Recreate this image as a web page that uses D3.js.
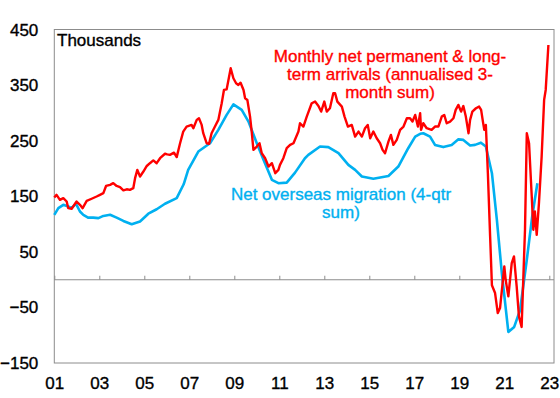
<!DOCTYPE html>
<html>
<head>
<meta charset="utf-8">
<script src="https://cdn.jsdelivr.net/npm/d3@7"></script>
<style>
  html, body { margin: 0; padding: 0; background: #fff; }
  svg text { font-family: "Liberation Sans", Arial, sans-serif; }
</style>
</head>
<body>
<div id="chart"></div>
<script>
// Monthly net permanent & long-term arrivals (annualised 3-month sum), thousands
const arrivalDates = [
  2001.00, 2001.10, 2001.25, 2001.40, 2001.55, 2001.62, 2001.77, 2001.99, 2002.14, 2002.26,
  2002.44, 2002.66, 2002.88, 2003.03, 2003.18, 2003.30, 2003.48, 2003.62, 2003.77, 2003.92,
  2004.07, 2004.22, 2004.36, 2004.51, 2004.59, 2004.69, 2004.81, 2004.96, 2005.11, 2005.25,
  2005.40, 2005.55, 2005.70, 2005.92, 2006.02, 2006.14, 2006.32, 2006.44, 2006.59, 2006.73,
  2006.88, 2007.10, 2007.18, 2007.33, 2007.43, 2007.55, 2007.62, 2007.77, 2007.88, 2007.99,
  2008.14, 2008.29, 2008.44, 2008.54, 2008.66, 2008.74, 2008.84, 2008.96, 2009.08, 2009.18,
  2009.28, 2009.41, 2009.48, 2009.58, 2009.70, 2009.78, 2009.85, 2010.00, 2010.12, 2010.22,
  2010.37, 2010.52, 2010.67, 2010.82, 2010.96, 2011.03, 2011.18, 2011.33, 2011.48, 2011.63,
  2011.85, 2011.92, 2012.07, 2012.22, 2012.44, 2012.59, 2012.74, 2012.86, 2013.00, 2013.11,
  2013.25, 2013.40, 2013.48, 2013.58, 2013.78, 2013.90, 2014.05, 2014.22, 2014.37, 2014.52,
  2014.67, 2014.81, 2014.93, 2015.04, 2015.18, 2015.33, 2015.48, 2015.59, 2015.70, 2015.85,
  2015.96, 2016.07, 2016.22, 2016.37, 2016.52, 2016.67, 2016.81, 2016.92, 2017.04, 2017.16,
  2017.26, 2017.30, 2017.40, 2017.55, 2017.77, 2017.92, 2018.07, 2018.22, 2018.33, 2018.44,
  2018.59, 2018.74, 2018.84, 2018.96, 2019.08, 2019.18, 2019.29, 2019.41, 2019.48, 2019.58,
  2019.74, 2019.88, 2019.97, 2020.05, 2020.11, 2020.18, 2020.27, 2020.37, 2020.45, 2020.59,
  2020.71, 2020.81, 2020.91, 2021.00, 2021.06, 2021.18, 2021.33, 2021.43, 2021.55, 2021.65,
  2021.77, 2021.92, 2022.00, 2022.10, 2022.22, 2022.29, 2022.36, 2022.44, 2022.54, 2022.66,
  2022.77, 2022.84, 2022.96
];
const arrivalValues = [
  148, 153, 144, 147, 141, 129, 128, 141, 135, 129,
  142, 146, 150, 153, 156, 169, 171, 174, 169, 167,
  161, 163, 162, 165, 183, 198, 186, 195, 205, 210,
  215, 210, 219, 227, 226, 225, 229, 221, 246, 267,
  276, 279, 273, 288, 291, 279, 264, 246, 245, 264,
  276, 288, 318, 342, 343, 360, 381, 363, 354, 351,
  355, 342, 327, 324, 294, 264, 234, 240, 246, 228,
  219, 204, 210, 192, 198, 207, 219, 237, 243, 246,
  267, 282, 276, 294, 318, 321, 313, 303, 321, 303,
  309, 336, 336, 321, 312, 294, 276, 279, 258, 267,
  258, 273, 279, 255, 267, 255, 246, 234, 228, 249,
  261, 243, 252, 270, 276, 291, 291, 285, 297, 276,
  300, 270, 282, 273, 270, 276, 276, 294, 297, 282,
  285, 291, 306, 315, 303, 313, 294, 264, 288, 303,
  309, 312, 306, 285, 270, 279, 192, 78, -10, -24,
  -60, -51, -12, 24, 0, -30, 30, 42, -12, -66,
  -85, 90, 264, 246, 150, 90, 123, 81, 138, 222,
  324, 342, 423
];

// Net overseas migration (4-qtr sum), thousands
const nomDates = [
  2001.00, 2001.18, 2001.40, 2001.62, 2001.77, 2001.96, 2002.14, 2002.29, 2002.50, 2002.73,
  2002.96, 2003.18, 2003.48, 2003.77, 2004.07, 2004.44, 2004.81, 2005.18, 2005.55, 2005.92,
  2006.44, 2006.75, 2006.95, 2007.40, 2007.92, 2008.29, 2008.66, 2008.96, 2009.33, 2009.63,
  2010.00, 2010.33, 2010.67, 2010.96, 2011.33, 2011.70, 2012.14, 2012.29, 2012.81, 2013.18,
  2013.63, 2014.07, 2014.37, 2014.67, 2015.18, 2015.85, 2016.29, 2016.73, 2017.04, 2017.26,
  2017.40, 2017.70, 2017.92, 2018.29, 2018.66, 2018.96, 2019.18, 2019.48, 2019.70, 2019.96,
  2020.18, 2020.45, 2020.67, 2020.89, 2021.18, 2021.44, 2021.70, 2022.00, 2022.24, 2022.47
];
const nomValues = [
  117, 129, 135, 132, 129, 137, 123, 117, 112, 112,
  111, 115, 117, 112, 106, 100, 105, 119, 127, 137,
  147, 172, 198, 231, 246, 270, 297, 316, 306, 285,
  246, 213, 180, 174, 175, 193, 219, 225, 240, 239,
  228, 207, 198, 186, 182, 187, 204, 237, 258, 263,
  264, 258, 243, 239, 243, 253, 252, 242, 243, 247,
  240, 192, 108, 12, -94, -85, -55, 36, 114, 174
];

const yTickValues = [-150, -50, 50, 150, 250, 350, 450];
const xTickYears = [2001, 2003, 2005, 2007, 2009, 2011, 2013, 2015, 2017, 2019, 2021, 2023];
const xTickLabels = ['01', '03', '05', '07', '09', '11', '13', '15', '17', '19', '21', '23'];

const arrivalsLabel = ['Monthly net permanent & long-', 'term arrivals (annualised 3-', 'month sum)'];
const nomLabel = ['Net overseas migration (4-qtr', 'sum)'];

const layout = {
  width: 560,
  height: 398,
  plotLeft: 54.3,
  plotRight: 554,
  plotTop: 29.5,
  plotBottom: 363,
  fontSize: 17
};

const colors = {
  arrivals: '#ff0000',
  nom: '#00b0f0',
  frame: '#8c8c8c',
  text: '#000000'
};

// the source text is a little heavier than plain Arial
const textWeight = 0.35;

function createSvg() {
  return d3.select('#chart')
    .append('svg')
    .attr('width', layout.width)
    .attr('height', layout.height);
}

function styleText(selection, color) {
  selection
    .attr('font-size', layout.fontSize)
    .attr('font-family', '"Liberation Sans", Arial, sans-serif')
    .attr('fill', color)
    .attr('stroke', color)
    .attr('stroke-width', textWeight);
}

const svg = createSvg();

const getValueOnXaxis = d3.scaleLinear()
  .domain([2001, 2023])
  .range([layout.plotLeft, 549.3]);

const getValueOnYaxis = d3.scaleLinear()
  .domain([-150, 450])
  .range([layout.plotBottom, 30]);

// plot frame
svg.append('rect')
  .attr('x', layout.plotLeft)
  .attr('y', layout.plotTop)
  .attr('width', layout.plotRight - layout.plotLeft)
  .attr('height', layout.plotBottom - layout.plotTop)
  .attr('fill', 'none')
  .attr('stroke', colors.frame)
  .attr('stroke-width', 1);

// y axis labels
svg.append('g')
  .attr('transform', `translate(${layout.plotLeft},0)`)
  .call(d3.axisLeft(getValueOnYaxis).tickValues(yTickValues).tickSize(0).tickPadding(16))
  .call(g => g.select('.domain').remove())
  .call(g => styleText(g.selectAll('text'), colors.text));

// zero line with upward ticks
const zeroY = getValueOnYaxis(0);
svg.append('g')
  .attr('transform', `translate(0,${zeroY})`)
  .call(d3.axisBottom(getValueOnXaxis).tickValues(xTickYears).tickSize(-4).tickFormat(''))
  .call(g => g.select('.domain')
    .attr('d', `M${layout.plotLeft},0H${layout.plotRight}`)
    .attr('stroke', colors.frame))
  .call(g => g.selectAll('.tick line').attr('stroke', colors.frame));

// x axis labels
svg.append('g')
  .attr('transform', `translate(0,${layout.plotBottom})`)
  .call(d3.axisBottom(getValueOnXaxis)
    .tickValues(xTickYears)
    .tickSize(0)
    .tickPadding(14)
    .tickFormat((d, i) => xTickLabels[i]))
  .call(g => g.select('.domain').remove())
  .call(g => styleText(g.selectAll('text'), colors.text));

function lineGenerator() {
  return d3.line()
    .x(d => getValueOnXaxis(d[0]))
    .y(d => getValueOnYaxis(d[1]));
}

const nomSeries = d3.zip(nomDates, nomValues);
const arrivalSeries = d3.zip(arrivalDates, arrivalValues);

svg.append('path')
  .datum(nomSeries)
  .attr('fill', 'none')
  .attr('stroke', colors.nom)
  .attr('stroke-width', 2.6)
  .attr('stroke-linejoin', 'round')
  .attr('d', lineGenerator());

svg.append('path')
  .datum(arrivalSeries)
  .attr('fill', 'none')
  .attr('stroke', colors.arrivals)
  .attr('stroke-width', 2.4)
  .attr('stroke-linejoin', 'round')
  .attr('d', lineGenerator());

// text annotations
svg.append('text')
  .attr('x', 57)
  .attr('y', 46)
  .call(styleText, colors.text)
  .text('Thousands');

function renderLabel(lines, cx, firstBaseline, lineHeight, color) {
  svg.append('text')
    .attr('text-anchor', 'middle')
    .call(styleText, color)
    .selectAll('tspan')
    .data(lines)
    .join('tspan')
    .attr('x', cx)
    .attr('y', (d, i) => firstBaseline + i * lineHeight)
    .text(d => d);
}

renderLabel(arrivalsLabel, 390, 62, 18, colors.arrivals);
renderLabel(nomLabel, 341, 200, 18.3, colors.nom);
</script>
</body>
</html>
